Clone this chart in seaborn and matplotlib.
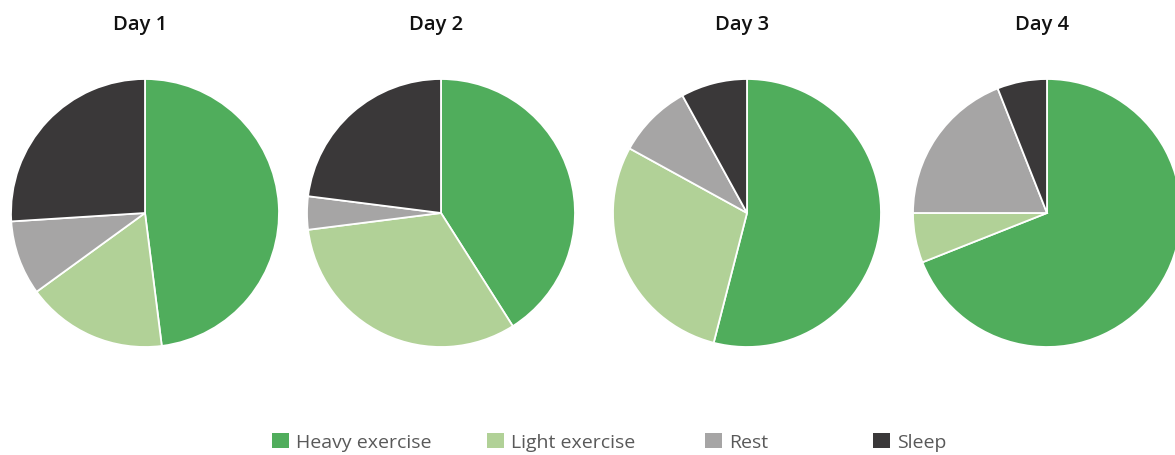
import matplotlib
matplotlib.use("Agg")
import matplotlib.pyplot as plt
import matplotlib.patches as mpatches
import seaborn as sns

# data (percent of the day)
categories = ["Heavy exercise", "Light exercise", "Rest", "Sleep"]
days = ["Day 1", "Day 2", "Day 3", "Day 4"]
day1 = [48, 17, 9, 26]
day2 = [41, 32, 4, 23]
day3 = [54, 29, 9, 8]
day4 = [69, 6, 19, 6]
values = [day1, day2, day3, day4]

colors = ["#50AD5C", "#B1D197", "#A6A5A5", "#3A3839"]

sns.set_theme(style="white")
plt.rcParams['font.family'] = ['Open Sans', 'DejaVu Sans']

W, H = 1175, 456
fig = plt.figure(figsize=(W / 100, H / 100), dpi=100)

# pie centres in pixels, radius in pixels
centers = [145, 441, 747, 1047]
cy = 214
r = 134

for name, vals, cx in zip(days, values, centers):
    ax = fig.add_axes([(cx - r) / W, (H - cy - r) / H, 2 * r / W, 2 * r / H])
    ax.pie(vals, colors=colors, startangle=90, counterclock=False,
           radius=1, wedgeprops=dict(edgecolor="white", linewidth=1.3))
    ax.set_xlim(-1, 1)
    ax.set_ylim(-1, 1)
    ax.set_aspect("equal")
    ax.axis("off")
    # title above each pie
    fig.text((cx - 5) / W, 1 - 25 / H, name, ha="center", va="center",
             fontsize=14.5, fontweight="semibold", color="#111111")

# legend: one entry per slot, like the original
legend_x = [272, 487, 705, 873]
for cat, col, lx in zip(categories, colors, legend_x):
    h = mpatches.Patch(facecolor=col, edgecolor="none", label=cat)
    fig.legend(handles=[h], loc="center left", bbox_to_anchor=(lx / W, 1 - 443 / H),
               frameon=False, fontsize=14, borderpad=0, borderaxespad=0,
               handlelength=0.85, handleheight=0.85, handletextpad=0.4,
               labelcolor="#595959")

plt.savefig("out.png", dpi=100)
